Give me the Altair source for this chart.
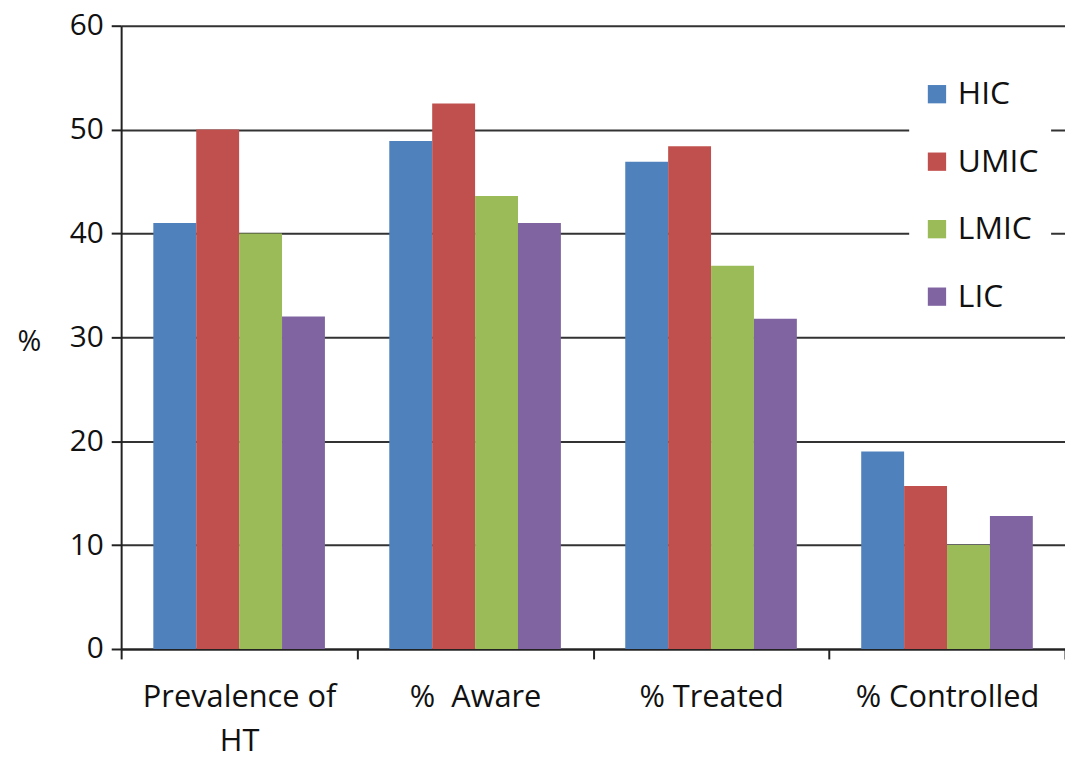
import altair as alt
import pandas as pd

categories = ["Prevalence of HT", "%\u00a0 Aware", "% Treated", "% Controlled"]
groups = ["HIC", "UMIC", "LMIC", "LIC"]
hic = [41, 48.9, 46.9, 19]
umic = [50, 52.5, 48.4, 15.7]
lmic = [40, 43.6, 36.9, 10]
lic = [32, 41, 31.8, 12.8]
colors = ["#4F81BD", "#C0504D", "#9BBB59", "#8064A2"]

rows = []
for g, vals in zip(groups, [hic, umic, lmic, lic]):
    for c, v in zip(categories, vals):
        rows.append({"cat": c, "grp": g, "val": v})
df = pd.DataFrame(rows)

FONT = "Open Sans"

chart = alt.Chart(df).mark_bar().encode(
    x=alt.X("cat:N", sort=categories,
            scale=alt.Scale(paddingInner=0, paddingOuter=0),
            axis=alt.Axis(title=None, labelAngle=0, tickBand="extent",
                          labelExpr="datum.label == 'Prevalence of HT' ? ['Prevalence of', 'HT'] : datum.label",
                          labelFontSize=31, labelFont=FONT, labelColor="#111",
                          labelLimit=400,
                          labelPadding=24, labelLineHeight=44, tickSize=10,
                          tickColor="#222", tickWidth=2, domainColor="#222",
                          domainWidth=2, grid=False)),
    xOffset=alt.XOffset("grp:N", sort=groups,
                        scale=alt.Scale(paddingInner=0, paddingOuter=0.75)),
    y=alt.Y("val:Q", scale=alt.Scale(domain=[0, 60], nice=False),
            axis=alt.Axis(title="%", titleAngle=0, titleFontSize=29,
                          titleFont=FONT, titleFontWeight="normal",
                          titleColor="#111", titleX=-93, titleY=318,
                          titleAlign="center", titleBaseline="middle",
                          values=[0, 10, 20, 30, 40, 50, 60],
                          labelFontSize=30, labelFont=FONT, labelColor="#111",
                          labelPadding=8, tickSize=10, tickColor="#222",
                          tickWidth=2, domainColor="#222", domainWidth=2,
                          grid=True, gridColor="#333", gridWidth=2)),
    color=alt.Color("grp:N", sort=groups,
                    scale=alt.Scale(domain=groups, range=colors),
                    legend=alt.Legend(title=None, orient="none",
                                      legendX=794, legendY=41,
                                      fillColor="white", padding=12,
                                      symbolType="square", symbolSize=340,
                                      symbolStrokeWidth=0,
                                      labelFontSize=32, labelFont=FONT,
                                      labelColor="#111", rowPadding=36,
                                      labelOffset=5)),
).properties(
    width=951, height=628, background="white",
    autosize=alt.AutoSizeParams(type="none"),
    padding={"left": 114, "right": 0, "top": 15, "bottom": 108},
).configure_view(stroke=None)

chart.save("out.html", embed_options={"renderer": "svg", "actions": False})
